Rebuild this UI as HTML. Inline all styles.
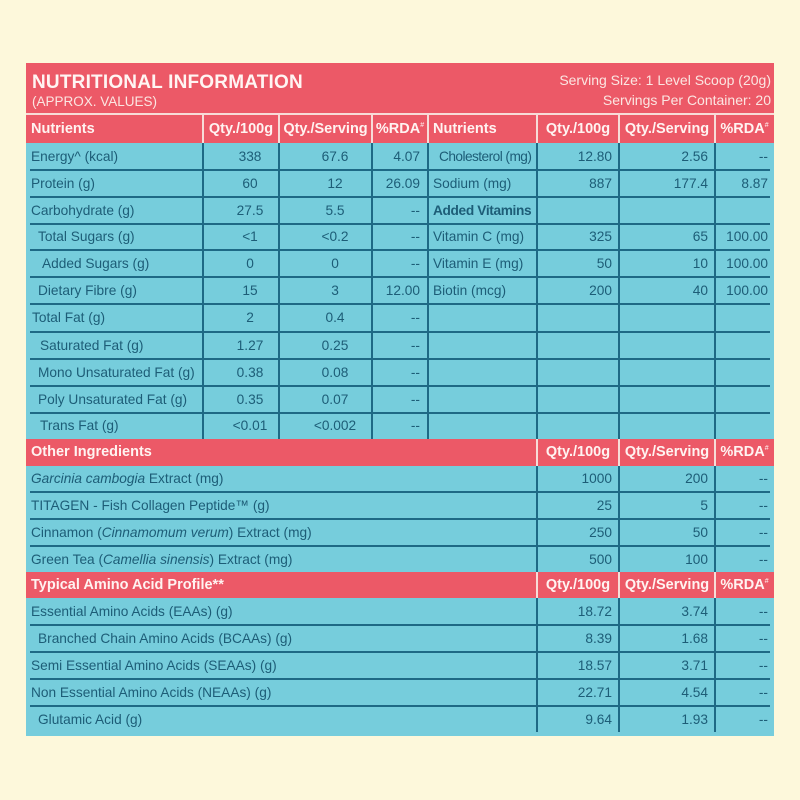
<!DOCTYPE html>
<html><head><meta charset="utf-8"><style>
*{margin:0;padding:0;box-sizing:border-box}
html,body{width:800px;height:800px;background:#fdf8db;overflow:hidden}
body{position:relative;font-family:"Liberation Sans",sans-serif}
.b{position:absolute}
.pk{background:#ec5967}
.tl{background:#76cddc}
.vd{position:absolute;width:2px;background:#1e6985}
.vw{position:absolute;width:2px;background:#f7dcd8}
.hd{position:absolute;height:2px;left:30px;width:740px;background:#1e6985}
.t{position:absolute;white-space:nowrap;font-size:13.7px;color:#1d5d77}
.h{position:absolute;white-space:nowrap;font-size:14.5px;font-weight:bold;color:#fff3f1;text-align:center}
.c1{left:203px;width:94px;text-align:center}
.c2{left:278px;width:114px;text-align:center}
.c3{right:380px;text-align:right}
.r1{right:188px;text-align:right}
.r2{right:92px;text-align:right}
.r3{right:32px;text-align:right}
sup{font-size:7px;position:relative;top:-6px;vertical-align:baseline;line-height:0;font-weight:normal}
i{font-style:italic}
</style></head><body>
<!-- backgrounds -->
<div class="b pk" style="left:26px;top:63px;width:748px;height:80px"></div>
<div class="b" style="left:26px;top:113px;width:748px;height:2px;background:#f7dcd8"></div>
<div class="b tl" style="left:26px;top:143px;width:748px;height:296px"></div>
<div class="b pk" style="left:26px;top:439px;width:748px;height:27px"></div>
<div class="b tl" style="left:26px;top:466px;width:748px;height:106px"></div>
<div class="b pk" style="left:26px;top:572px;width:748px;height:26px"></div>
<div class="b tl" style="left:26px;top:598px;width:748px;height:138px"></div>

<!-- vertical lines top section -->
<div class="vw" style="left:202px;top:115px;height:28px"></div>
<div class="vw" style="left:278px;top:115px;height:28px"></div>
<div class="vw" style="left:371px;top:115px;height:28px"></div>
<div class="vw" style="left:427px;top:115px;height:28px"></div>
<div class="vw" style="left:536px;top:115px;height:28px"></div>
<div class="vw" style="left:618px;top:115px;height:28px"></div>
<div class="vw" style="left:714px;top:115px;height:28px"></div>
<div class="vd" style="left:202px;top:143px;height:296px"></div>
<div class="vd" style="left:278px;top:143px;height:296px"></div>
<div class="vd" style="left:371px;top:143px;height:296px"></div>
<div class="vd" style="left:427px;top:143px;height:296px"></div>
<div class="vd" style="left:536px;top:143px;height:296px"></div>
<div class="vd" style="left:618px;top:143px;height:296px"></div>
<div class="vd" style="left:714px;top:143px;height:296px"></div>
<!-- lower verticals -->
<div class="vw" style="left:536px;top:439px;height:27px"></div>
<div class="vw" style="left:618px;top:439px;height:27px"></div>
<div class="vw" style="left:714px;top:439px;height:27px"></div>
<div class="vd" style="left:536px;top:466px;height:106px"></div>
<div class="vd" style="left:618px;top:466px;height:106px"></div>
<div class="vd" style="left:714px;top:466px;height:106px"></div>
<div class="vw" style="left:536px;top:572px;height:26px"></div>
<div class="vw" style="left:618px;top:572px;height:26px"></div>
<div class="vw" style="left:714px;top:572px;height:26px"></div>
<div class="vd" style="left:536px;top:598px;height:134px"></div>
<div class="vd" style="left:618px;top:598px;height:134px"></div>
<div class="vd" style="left:714px;top:598px;height:134px"></div>

<!-- horizontal lines -->
<div class="hd" style="top:169px"></div>
<div class="hd" style="top:196px"></div>
<div class="hd" style="top:223px"></div>
<div class="hd" style="top:249px"></div>
<div class="hd" style="top:276px"></div>
<div class="hd" style="top:303px"></div>
<div class="hd" style="top:331px"></div>
<div class="hd" style="top:358px"></div>
<div class="hd" style="top:385px"></div>
<div class="hd" style="top:412px"></div>
<div class="hd" style="top:491px"></div>
<div class="hd" style="top:518px"></div>
<div class="hd" style="top:545px"></div>
<div class="hd" style="top:624px"></div>
<div class="hd" style="top:651px"></div>
<div class="hd" style="top:678px"></div>
<div class="hd" style="top:705px"></div>

<!-- title -->
<div class="b" style="left:32px;top:73px;font-size:19px;line-height:19px;font-weight:bold;color:#fff5f3;white-space:nowrap;letter-spacing:0.2px">NUTRITIONAL INFORMATION</div>
<div class="b" style="left:32px;top:95px;font-size:13.5px;line-height:13.5px;color:#fbe6e2;white-space:nowrap">(APPROX. VALUES)</div>
<div class="b" style="right:29px;top:73px;font-size:14px;line-height:14px;color:#fbe6e2;white-space:nowrap;text-align:right">Serving Size: 1 Level Scoop (20g)</div>
<div class="b" style="right:29px;top:93px;font-size:14px;line-height:14px;color:#fbe6e2;white-space:nowrap;text-align:right">Servings Per Container: 20</div>

<!-- column headers -->
<div class="h" style="left:31px;top:115px;line-height:28px;text-align:left">Nutrients</div>
<div class="h" style="left:203px;width:76px;top:115px;line-height:28px">Qty./100g</div>
<div class="h" style="left:279px;width:93px;top:115px;line-height:28px">Qty./Serving</div>
<div class="h" style="left:372px;width:56px;top:115px;line-height:28px">%RDA<sup>#</sup></div>
<div class="h" style="left:433px;top:115px;line-height:28px;text-align:left">Nutrients</div>
<div class="h" style="left:537px;width:82px;top:115px;line-height:28px">Qty./100g</div>
<div class="h" style="left:619px;width:96px;top:115px;line-height:28px">Qty./Serving</div>
<div class="h" style="left:715px;width:59px;top:115px;line-height:28px">%RDA<sup>#</sup></div>

<!-- top rows -->
<div style="position:absolute;left:0;top:143px;width:800px;height:27px;line-height:27px">
<div class="t" style="left:439px;letter-spacing:-0.55px">Cholesterol (mg)</div>
<div class="t" style="left:31px">Energy^ (kcal)</div><div class="t c1">338</div><div class="t c2">67.6</div><div class="t c3">4.07</div>
<div class="t r1">12.80</div><div class="t r2">2.56</div><div class="t r3">--</div></div>
<div style="position:absolute;left:0;top:170px;width:800px;height:27px;line-height:27px">
<div class="t" style="left:31px">Protein (g)</div><div class="t c1">60</div><div class="t c2">12</div><div class="t c3">26.09</div>
<div class="t" style="left:433px">Sodium (mg)</div><div class="t r1">887</div><div class="t r2">177.4</div><div class="t r3">8.87</div></div>
<div style="position:absolute;left:0;top:197px;width:800px;height:27px;line-height:27px">
<div class="t" style="left:31px">Carbohydrate (g)</div><div class="t c1">27.5</div><div class="t c2">5.5</div><div class="t c3">--</div>
<div class="t" style="left:433px;font-weight:bold;letter-spacing:-0.35px">Added Vitamins</div></div>
<div style="position:absolute;left:0;top:224px;width:800px;height:26px;line-height:26px">
<div class="t" style="left:38px">Total Sugars (g)</div><div class="t c1">&lt;1</div><div class="t c2">&lt;0.2</div><div class="t c3">--</div>
<div class="t" style="left:433px">Vitamin C (mg)</div><div class="t r1">325</div><div class="t r2">65</div><div class="t r3">100.00</div></div>
<div style="position:absolute;left:0;top:250px;width:800px;height:27px;line-height:28px">
<div class="t" style="left:42px">Added Sugars (g)</div><div class="t c1">0</div><div class="t c2">0</div><div class="t c3">--</div>
<div class="t" style="left:433px">Vitamin E (mg)</div><div class="t r1">50</div><div class="t r2">10</div><div class="t r3">100.00</div></div>
<div style="position:absolute;left:0;top:277px;width:800px;height:27px;line-height:28px">
<div class="t" style="left:38px">Dietary Fibre (g)</div><div class="t c1">15</div><div class="t c2">3</div><div class="t c3">12.00</div>
<div class="t" style="left:433px">Biotin (mcg)</div><div class="t r1">200</div><div class="t r2">40</div><div class="t r3">100.00</div></div>
<div style="position:absolute;left:0;top:304px;width:800px;height:28px;line-height:28px">
<div class="t" style="left:32px">Total Fat (g)</div><div class="t c1">2</div><div class="t c2">0.4</div><div class="t c3">--</div></div>
<div style="position:absolute;left:0;top:332px;width:800px;height:27px;line-height:27px">
<div class="t" style="left:40px">Saturated Fat (g)</div><div class="t c1">1.27</div><div class="t c2">0.25</div><div class="t c3">--</div></div>
<div style="position:absolute;left:0;top:359px;width:800px;height:27px;line-height:27px">
<div class="t" style="left:38px">Mono Unsaturated Fat (g)</div><div class="t c1">0.38</div><div class="t c2">0.08</div><div class="t c3">--</div></div>
<div style="position:absolute;left:0;top:386px;width:800px;height:27px;line-height:27px">
<div class="t" style="left:38px">Poly Unsaturated Fat (g)</div><div class="t c1">0.35</div><div class="t c2">0.07</div><div class="t c3">--</div></div>
<div style="position:absolute;left:0;top:413px;width:800px;height:26px;line-height:26px">
<div class="t" style="left:40px">Trans Fat (g)</div><div class="t c1">&lt;0.01</div><div class="t c2">&lt;0.002</div><div class="t c3">--</div></div>

<!-- other ingredients -->
<div class="h" style="left:31px;top:439px;line-height:27px;text-align:left">Other Ingredients</div>
<div class="h" style="left:537px;width:82px;top:439px;line-height:27px">Qty./100g</div>
<div class="h" style="left:619px;width:96px;top:439px;line-height:27px">Qty./Serving</div>
<div class="h" style="left:715px;width:59px;top:439px;line-height:27px">%RDA<sup>#</sup></div>
<div style="position:absolute;left:0;top:466px;width:800px;height:26px;line-height:26px">
<div class="t" style="left:31px"><i>Garcinia cambogia</i> Extract (mg)</div><div class="t r1">1000</div><div class="t r2">200</div><div class="t r3">--</div></div>
<div style="position:absolute;left:0;top:492px;width:800px;height:27px;line-height:27px">
<div class="t" style="left:31px">TITAGEN - Fish Collagen Peptide™ (g)</div><div class="t r1">25</div><div class="t r2">5</div><div class="t r3">--</div></div>
<div style="position:absolute;left:0;top:519px;width:800px;height:27px;line-height:27px">
<div class="t" style="left:31px">Cinnamon (<i>Cinnamomum verum</i>) Extract (mg)</div><div class="t r1">250</div><div class="t r2">50</div><div class="t r3">--</div></div>
<div style="position:absolute;left:0;top:546px;width:800px;height:26px;line-height:27px">
<div class="t" style="left:31px">Green Tea (<i>Camellia sinensis</i>) Extract (mg)</div><div class="t r1">500</div><div class="t r2">100</div><div class="t r3">--</div></div>

<!-- amino -->
<div class="h" style="left:31px;top:572px;line-height:26px;text-align:left">Typical Amino Acid Profile**</div>
<div class="h" style="left:537px;width:82px;top:572px;line-height:26px">Qty./100g</div>
<div class="h" style="left:619px;width:96px;top:572px;line-height:26px">Qty./Serving</div>
<div class="h" style="left:715px;width:59px;top:572px;line-height:26px">%RDA<sup>#</sup></div>
<div style="position:absolute;left:0;top:598px;width:800px;height:27px;line-height:27px">
<div class="t" style="left:31px">Essential Amino Acids (EAAs) (g)</div><div class="t r1">18.72</div><div class="t r2">3.74</div><div class="t r3">--</div></div>
<div style="position:absolute;left:0;top:625px;width:800px;height:27px;line-height:27px">
<div class="t" style="left:38px">Branched Chain Amino Acids (BCAAs) (g)</div><div class="t r1">8.39</div><div class="t r2">1.68</div><div class="t r3">--</div></div>
<div style="position:absolute;left:0;top:652px;width:800px;height:27px;line-height:27px">
<div class="t" style="left:31px">Semi Essential Amino Acids (SEAAs) (g)</div><div class="t r1">18.57</div><div class="t r2">3.71</div><div class="t r3">--</div></div>
<div style="position:absolute;left:0;top:679px;width:800px;height:27px;line-height:27px">
<div class="t" style="left:31px">Non Essential Amino Acids (NEAAs) (g)</div><div class="t r1">22.71</div><div class="t r2">4.54</div><div class="t r3">--</div></div>
<div style="position:absolute;left:0;top:706px;width:800px;height:27px;line-height:28px">
<div class="t" style="left:38px">Glutamic Acid (g)</div><div class="t r1">9.64</div><div class="t r2">1.93</div><div class="t r3">--</div></div>
</body></html>
